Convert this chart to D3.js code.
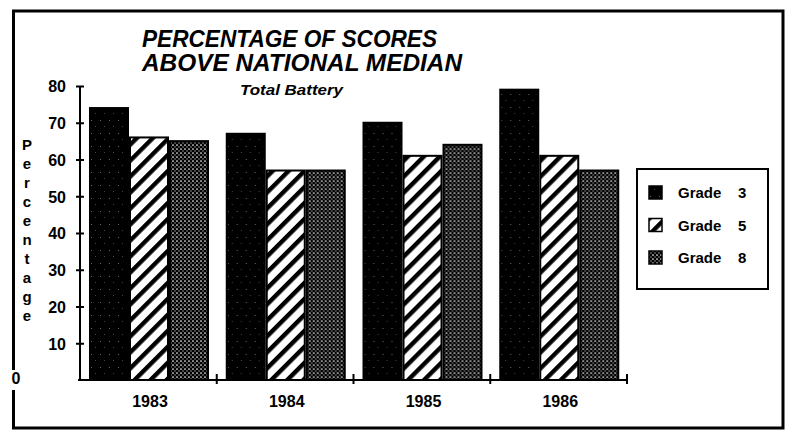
<!DOCTYPE html>
<html>
<head>
<meta charset="utf-8">
<script src="https://cdn.jsdelivr.net/npm/d3@7"></script>
<style>
  html, body { margin: 0; padding: 0; background: #fff; }
  svg { display: block; }
  text { font-family: "Liberation Sans", Arial, Helvetica, sans-serif; font-weight: bold; fill: #000; }
</style>
</head>
<body>
<svg id="chart" width="788" height="435"></svg>
<script>
// Data
const years = ["1983", "1984", "1985", "1986"];
const grades = ["Grade 3", "Grade 5", "Grade 8"];
const grade3 = [74, 67, 70, 79];
const grade5 = [66, 57, 61, 61];
const grade8 = [65, 57, 64, 57];
const yTicks = [10, 20, 30, 40, 50, 60, 70, 80];
const titleLines = ["PERCENTAGE OF SCORES", "ABOVE NATIONAL MEDIAN"];
const subtitle = "Total Battery";
const yLabel = "Percentage";

const seriesValues = [grade3, grade5, grade8];

const svg = d3.select("#chart");

/* ------------------------------------------------------------------
   Fill patterns (scanned halftone look)
------------------------------------------------------------------ */

const defs = svg.append("defs");

// grade 3: near-solid black with rare specks
const p3 = defs.append("pattern")
    .attr("id", "pat-g3")
    .attr("patternUnits", "userSpaceOnUse")
    .attr("width", 9).attr("height", 13);
p3.append("rect").attr("width", 9).attr("height", 13).attr("fill", "#000");
p3.append("rect").attr("x", 2).attr("y", 3).attr("width", 1).attr("height", 1).attr("fill", "#666");
p3.append("rect").attr("x", 6).attr("y", 9).attr("width", 1).attr("height", 1).attr("fill", "#444");

// grade 5: diagonal stripes
const p5 = defs.append("pattern")
    .attr("id", "pat-g5")
    .attr("patternUnits", "userSpaceOnUse")
    .attr("width", 11.3).attr("height", 11.3)
    .attr("patternTransform", "rotate(45)");
p5.append("rect").attr("width", 11.3).attr("height", 11.3).attr("fill", "#fff");
p5.append("rect").attr("width", 4.4).attr("height", 11.3).attr("fill", "#000");

// grade 8: dense dark stipple
const p8 = defs.append("pattern")
    .attr("id", "pat-g8")
    .attr("patternUnits", "userSpaceOnUse")
    .attr("width", 4).attr("height", 4);
p8.append("rect").attr("width", 4).attr("height", 4).attr("fill", "#000");
p8.append("circle").attr("cx", 1).attr("cy", 1).attr("r", 0.85).attr("fill", "#fff");
p8.append("circle").attr("cx", 3).attr("cy", 3).attr("r", 0.7).attr("fill", "#bbb");

const fills = ["url(#pat-g3)", "url(#pat-g5)", "url(#pat-g8)"];

/* ------------------------------------------------------------------
   Frame
------------------------------------------------------------------ */

const frame = svg.append("g").attr("fill", "none").attr("stroke", "#000");
frame.append("path")
    .attr("d", "M13.5,370 L13.5,11 L783,11 L783,428 L13.5,428 L13.5,390")
    .attr("stroke-width", 3);

/* ------------------------------------------------------------------
   Scales
------------------------------------------------------------------ */

const x0 = d3.scaleBand().domain(years).range([80, 627]).padding(0);
const x1 = d3.scaleBand().domain(grades).range([10, 128]).paddingInner(0.05);
const y = d3.scaleLinear().domain([0, 80]).range([380, 86]);

/* ------------------------------------------------------------------
   Bars
------------------------------------------------------------------ */

const groups = svg.append("g")
    .selectAll("g")
    .data(years)
    .join("g")
    .attr("transform", d => `translate(${x0(d)},0)`);

groups.selectAll("rect")
    .data((yr, i) => grades.map((g, j) => ({ grade: g, idx: j, value: seriesValues[j][i] })))
    .join("rect")
    .attr("x", d => x1(d.grade))
    .attr("y", d => y(d.value))
    .attr("width", x1.bandwidth())
    .attr("height", d => y(0) - y(d.value))
    .attr("fill", d => fills[d.idx])
    .attr("stroke", "#000")
    .attr("stroke-width", 2);

/* ------------------------------------------------------------------
   Axes
------------------------------------------------------------------ */

const yAxis = svg.append("g")
    .attr("transform", "translate(80,0)")
    .call(d3.axisLeft(y).tickValues(yTicks).tickSize(4).tickPadding(10));
yAxis.select(".domain").attr("stroke-width", 2).attr("d", `M0,${y(80)}V${y(0)}`);
yAxis.selectAll(".tick line").attr("x1", 4).attr("x2", -4).attr("stroke-width", 2);
yAxis.selectAll(".tick text")
    .attr("font-size", 16)
    .attr("font-family", "Liberation Sans, Arial, sans-serif")
    .attr("font-weight", "bold")
    .attr("dy", "0.36em");

// the zero label sits out on the frame line
svg.append("text")
    .attr("x", 16)
    .attr("y", y(0) - 2)
    .attr("dy", "0.36em")
    .attr("text-anchor", "middle")
    .attr("font-size", 16)
    .text("0");

// x axis with boundary ticks
const xAxis = svg.append("g");
xAxis.append("line")
    .attr("x1", 78).attr("x2", x0.range()[1] + 1)
    .attr("y1", y(0)).attr("y2", y(0))
    .attr("stroke", "#000").attr("stroke-width", 2);
xAxis.selectAll("line.tick")
    .data(years.map(d => x0(d) + x0.bandwidth()))
    .join("line")
    .attr("class", "tick")
    .attr("x1", d => d).attr("x2", d => d)
    .attr("y1", y(0) - 6).attr("y2", y(0) + 4)
    .attr("stroke", "#000").attr("stroke-width", 2);
xAxis.selectAll("text")
    .data(years)
    .join("text")
    .attr("x", d => x0(d) + 70)
    .attr("y", 407)
    .attr("text-anchor", "middle")
    .attr("font-size", 16)
    .text(d => d);

// stacked vertical label
svg.append("g")
    .selectAll("text")
    .data(yLabel.split(""))
    .join("text")
    .attr("x", 27)
    .attr("y", (d, i) => 145 + i * 18.9)
    .attr("dy", "0.36em")
    .attr("text-anchor", "middle")
    .attr("font-size", 15)
    .text(d => d);

/* ------------------------------------------------------------------
   Titles
------------------------------------------------------------------ */

const titleLens = [295, 320];
svg.append("g")
    .selectAll("text")
    .data(titleLines)
    .join("text")
    .attr("x", 142)
    .attr("y", (d, i) => 47 + i * 24)
    .attr("font-size", 23)
    .attr("font-style", "italic")
    .attr("textLength", (d, i) => titleLens[i])
    .attr("lengthAdjust", "spacingAndGlyphs")
    .text(d => d);

svg.append("text")
    .attr("x", 240)
    .attr("y", 95)
    .attr("font-size", 15)
    .attr("font-style", "italic")
    .attr("textLength", 103)
    .attr("lengthAdjust", "spacingAndGlyphs")
    .text(subtitle);

/* ------------------------------------------------------------------
   Legend
------------------------------------------------------------------ */

const legend = svg.append("g");
legend.append("rect")
    .attr("x", 637).attr("y", 169)
    .attr("width", 131).attr("height", 120)
    .attr("fill", "#fff").attr("stroke", "#000").attr("stroke-width", 2);

const legendRows = legend.selectAll("g.row")
    .data(grades)
    .join("g")
    .attr("class", "row")
    .attr("transform", (d, i) => `translate(0,${193 + i * 32.5})`);

legendRows.append("rect")
    .attr("x", 649).attr("y", -7)
    .attr("width", 13).attr("height", 13)
    .attr("fill", (d, i) => fills[i])
    .attr("stroke", "#000").attr("stroke-width", 1.5);

legendRows.append("text")
    .attr("x", 678).attr("dy", "0.36em")
    .attr("font-size", 15)
    .text(d => d.split(" ")[0]);

legendRows.append("text")
    .attr("x", 738).attr("dy", "0.36em")
    .attr("font-size", 15)
    .text(d => d.split(" ")[1]);
</script>
</body>
</html>
